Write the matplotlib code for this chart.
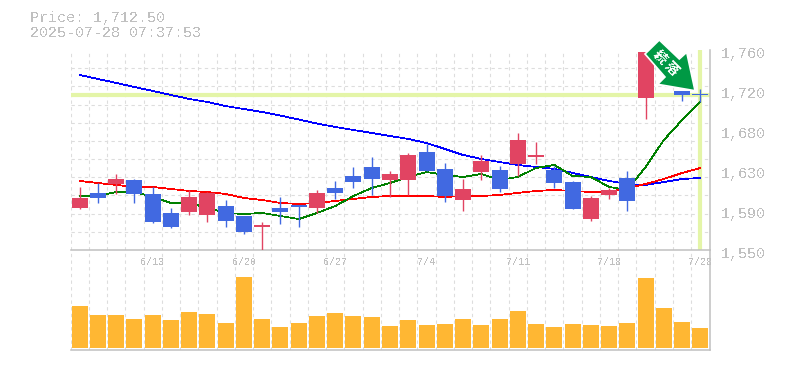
import numpy as np
import matplotlib
matplotlib.use('Agg')
import matplotlib.pyplot as plt
from matplotlib.patches import Polygon
from matplotlib.transforms import IdentityTransform, ScaledTranslation

plt.rcParams['font.family'] = ['Liberation Mono', 'DejaVu Sans']
plt.rcParams['text.antialiased'] = False

price_text = 'Price: 1,712.50'
time_text = '2025-07-28 07:37:53'
last_price = 1712.5

date_pos = [4, 9, 14, 19, 24, 29, 34]
date_labels = ['6/13', '6/20', '6/27', '7/4', '7/11', '7/18', '7/28']
price_ticks = [1550, 1592, 1634, 1676, 1718, 1760]
price_labels = ['1,550', '1,590', '1,630', '1,680', '1,720', '1,760']

opens = [1594.1, 1609.9, 1619.3, 1623.5, 1608.8, 1588.9, 1589.9, 1586.8, 1596.2, 1585.7,
         1574.2, 1594.1, 1597.3, 1594.1, 1615.1, 1627.7, 1637.2, 1623.5, 1623.5, 1652.9,
         1635.1, 1602.5, 1631.9, 1634.0, 1640.3, 1647.7, 1634.0, 1621.4, 1582.6, 1607.8,
         1625.6, 1709.6, 1757.9, 1717.0, 1713.8]
closes = [1604.6, 1604.6, 1624.6, 1608.8, 1579.4, 1574.2, 1605.7, 1609.9, 1580.5, 1568.9,
          1576.3, 1589.9, 1595.2, 1609.9, 1609.9, 1621.4, 1624.6, 1629.8, 1649.8, 1633.0,
          1606.7, 1614.1, 1643.5, 1614.1, 1665.5, 1649.8, 1620.4, 1593.0, 1604.6, 1613.0,
          1601.5, 1757.9, 1747.4, 1712.8, 1712.5]
highs = [1616.2, 1620.4, 1629.8, 1624.6, 1616.2, 1594.1, 1613.0, 1610.9, 1602.5, 1585.7,
         1579.4, 1605.7, 1597.3, 1613.0, 1622.5, 1637.2, 1647.7, 1633.0, 1651.9, 1661.3,
         1641.4, 1624.6, 1649.8, 1638.2, 1672.9, 1663.4, 1638.2, 1622.5, 1606.7, 1615.1,
         1633.0, 1757.9, 1757.9, 1717.0, 1719.0]
lows = [1593.1, 1599.4, 1608.8, 1599.4, 1578.4, 1573.1, 1586.8, 1579.4, 1574.2, 1566.8,
        1550.0, 1577.3, 1574.2, 1588.9, 1603.6, 1615.1, 1607.8, 1605.7, 1607.8, 1633.0,
        1600.4, 1591.0, 1623.5, 1610.9, 1627.7, 1640.3, 1615.1, 1593.0, 1580.5, 1603.6,
        1591.0, 1687.6, 1736.9, 1706.5, 1705.4]

ma_long = [1733.8, 1729.6, 1725.4, 1721.2, 1717.0, 1712.8, 1708.6, 1705.4, 1701.2, 1698.0,
           1694.9, 1691.2, 1687.0, 1682.8, 1679.2, 1676.0, 1672.9, 1669.7, 1666.6, 1662.4,
           1656.1, 1649.8, 1645.6, 1642.4, 1639.3, 1637.2, 1635.1, 1630.9, 1626.7, 1622.5,
           1619.3, 1618.3, 1621.4, 1624.6, 1625.6]
ma_mid = [1622.5, 1620.4, 1618.3, 1616.2, 1616.2, 1614.1, 1612.0, 1610.9, 1608.8, 1604.6,
          1602.5, 1599.4, 1598.3, 1599.4, 1601.5, 1603.6, 1605.7, 1606.7, 1606.7, 1606.7,
          1605.7, 1606.7, 1606.7, 1607.8, 1609.9, 1612.0, 1613.0, 1612.0, 1610.9, 1610.9,
          1615.1, 1619.3, 1624.6, 1630.9, 1636.1]
ma_short = [1606.7, 1606.7, 1610.9, 1610.9, 1605.7, 1599.4, 1599.4, 1594.1, 1588.9, 1587.8,
            1588.9, 1585.7, 1582.5, 1588.9, 1596.2, 1606.7, 1615.1, 1620.4, 1626.7, 1631.9,
            1628.8, 1626.7, 1629.8, 1623.5, 1626.7, 1636.1, 1639.3, 1627.7, 1626.7, 1616.2,
            1613.0, 1637.2, 1665.5, 1686.5, 1705.4]

volumes = [42, 33, 33, 29, 33, 28, 36, 34, 25, 71, 29, 21, 25, 32, 35, 32, 31, 22,
           28, 23, 24, 29, 23, 29, 37, 24, 21, 24, 23, 22, 25, 70, 40, 26, 20]

# arrow outline in picture pixels
arrow_x = [659.3, 645, 665, 657.7, 695, 686.7, 679.3]
arrow_y = [40, 54, 77, 84.3, 90.7, 52.3, 59]

W, H = 785, 370
GRAY = '#c0c0c0'
GRID = '#dddddd'
RED = '#e14462'
BLUE = '#4169e1'
LIME = '#e4f5a8'
LEFT, RIGHT = 70.5, 709.5

fig = plt.figure(figsize=(W / 100, H / 100), dpi=100)
vax = fig.add_axes([LEFT / W, 1 - 350 / H, (RIGHT - LEFT) / W, 100 / H])
ax = fig.add_axes([LEFT / W, 1 - 250 / H, (RIGHT - LEFT) / W, 200 / H])

n = len(opens)
xs = np.arange(n) + 0.5
slots = np.arange(n + 1)

for a in (ax, vax):
    a.set_xlim(0, n)
    a.set_xticks(slots, minor=True)
    a.grid(True, which='minor', color=GRID, lw=0.8, ls=(0, (3, 3)))
    a.set_axisbelow(True)
    a.tick_params(which='both', length=0)
    for s in ('top', 'left'):
        a.spines[s].set_visible(False)
    for s in ('right', 'bottom'):
        a.spines[s].set_color(GRAY)
        a.spines[s].set_linewidth(1.1)

ax.set_ylim(1550, 1760)
ax.set_yticks(np.linspace(1550, 1760, 12), minor=True)
ax.yaxis.tick_right()
ax.set_yticks(price_ticks, price_labels, fontsize=10.8, color=GRAY)
ax.tick_params(axis='y', which='major', pad=8.5, labelcolor=GRAY)
ax.set_xticks(xs[date_pos], date_labels, fontsize=7.2, color=GRAY)
ax.tick_params(axis='x', which='major', pad=5, labelcolor=GRAY)
# price labels sit a little under their line
shift = ScaledTranslation(0, -2.6 / 100, fig.dpi_scale_trans)
for lab in ax.get_yticklabels():
    lab.set_transform(lab.get_transform() + shift)

ax.axhline(last_price, color=LIME, lw=3, zorder=1)
ax.axvline(xs[-1], color=LIME, lw=3, zorder=1)

ax.plot(xs, ma_long, color='#0000ff', lw=0.55, zorder=2, antialiased=False)
ax.plot(xs, ma_mid, color='#ff0000', lw=0.55, zorder=2, antialiased=False)
ax.plot(xs, ma_short, color='#008000', lw=0.55, zorder=2, antialiased=False)

for i in range(n):
    c = RED if closes[i] >= opens[i] else BLUE
    ax.vlines(xs[i], lows[i], highs[i], color=c, lw=1.0, zorder=3)
    ax.bar(xs[i], abs(closes[i] - opens[i]), bottom=min(opens[i], closes[i]),
           width=0.877, color=c, lw=0, zorder=3)

vax.bar(xs, volumes, width=0.877, color='#ffb733', lw=0, zorder=3)
vax.set_ylim(-2, 98)
vax.set_xticks([])
vax.set_yticks([])

arrow_pts = [(x, H - y) for x, y in zip(arrow_x, arrow_y)]
fig.add_artist(Polygon(arrow_pts, closed=True, facecolor='#009944', edgecolor='white',
                       lw=1.2, transform=IdentityTransform(), zorder=10))
fig.text(666, H - 63, '続 落', transform=IdentityTransform(), color='white', fontsize=9.5,
         fontweight='bold', family=['Noto Sans CJK JP', 'DejaVu Sans'], rotation=-45,
         ha='center', va='center', rotation_mode='anchor', zorder=11)

fig.text(30 / W, 1 - 18 / H, price_text, fontsize=10.8, color=GRAY, ha='left', va='center')
fig.text(30 / W, 1 - 33 / H, time_text, fontsize=10.8, color=GRAY, ha='left', va='center')

fig.savefig('out.png', dpi=100, facecolor='white')
